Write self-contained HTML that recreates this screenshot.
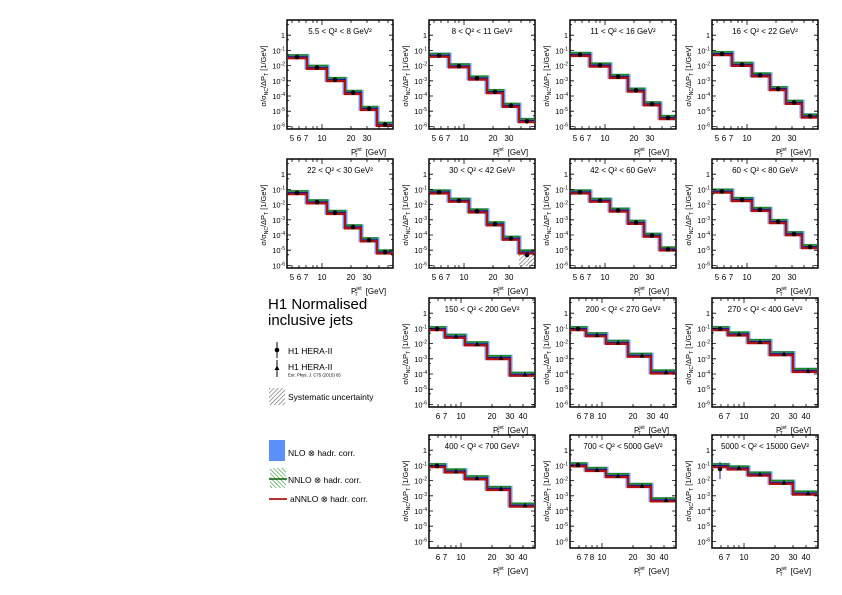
<!DOCTYPE html>
<html><head><meta charset="utf-8"><style>
html,body{margin:0;padding:0;background:#fff}
svg{font-family:"Liberation Sans",sans-serif;display:block}
.yl{font-size:7.5px;text-anchor:end}
.xl{font-size:8px;text-anchor:middle}
.tt{font-size:8px;text-anchor:middle}
.sp{font-size:5px}
.b{fill:none;stroke:#6f9cf5;stroke-width:5}
.g{fill:none;stroke:#1e8a1e;stroke-width:1.6}
.n{fill:none;stroke:#1a1a8a;stroke-width:2}
.r{fill:none;stroke:#b40f0f;stroke-width:2.2}
.fr{fill:none;stroke:#000;stroke-width:1.5}
.tk{fill:none;stroke:#000;stroke-width:0.8}
</style></head><body>
<svg width="842" height="595" viewBox="0 0 842 595" xmlns="http://www.w3.org/2000/svg">
<defs>
<pattern id="hat" width="3" height="3" patternUnits="userSpaceOnUse" patternTransform="rotate(45)"><rect width="3" height="3" fill="#fff"/><line x1="0" y1="0" x2="0" y2="3" stroke="#666" stroke-width="1.2"/></pattern>
<pattern id="ghat" width="3" height="3" patternUnits="userSpaceOnUse" patternTransform="rotate(-45)"><rect width="3" height="3" fill="#fff"/><line x1="0" y1="0" x2="0" y2="3" stroke="#2a9a2a" stroke-width="1.2"/></pattern>
<g id="ya">
<path class="tk" d="M0 15.2h4M0 30.4h4M0 45.6h4M0 60.8h4M0 76h4M0 91.2h4M0 106.4h4M106 15.2h-4M106 30.4h-4M106 45.6h-4M106 60.8h-4M106 76h-4M106 91.2h-4M106 106.4h-4M0 4.6h2M0 19.8h2M0 35h2M0 50.2h2M0 65.4h2M0 80.6h2M0 95.8h2M106 4.6h-2M106 19.8h-2M106 35h-2M106 50.2h-2M106 65.4h-2M106 80.6h-2M106 95.8h-2"/>
</g>
<g id="xa1"><path class="tk" d="M5 109v-3M12 109v-3M19 109v-3M26 109v-3M30 109v-3M35 109v-5M64 109v-3M80 109v-3M92 109v-3M101 109v-3M5 0v3M12 0v3M19 0v3M26 0v3M30 0v3M35 0v5M64 0v3M80 0v3M92 0v3M101 0v3"/><rect class="fr" width="106" height="109"/></g>
<g id="xa3"><path class="tk" d="M9 109v-3M16 109v-3M22 109v-3M27 109v-3M32 109v-5M63 109v-3M81 109v-3M94 109v-3M104 109v-3M9 0v3M16 0v3M22 0v3M27 0v3M32 0v5M63 0v3M81 0v3M94 0v3M104 0v3"/><rect class="fr" width="106" height="109"/></g>
<g id="xa4"><path class="tk" d="M9 113v-3M16 113v-3M22 113v-3M27 113v-3M32 113v-5M63 113v-3M81 113v-3M94 113v-3M104 113v-3M9 0v3M16 0v3M22 0v3M27 0v3M32 0v5M63 0v3M81 0v3M94 0v3M104 0v3"/><rect class="fr" width="106" height="113"/></g>
<path id="s1" d="M1 36.5H20V47.1H40V59.3H58V72.2H74V88.2H90V104.1H105"/>
<path id="s2" d="M1 35H20V45.6H40V57.8H58V71.4H74V85.1H90V100.3H105"/>
<path id="s3" d="M1 34.2H20V44.8H40V56.2H58V69.9H74V83.6H90V97.3H105"/>
<path id="s4" d="M1 33.4H20V44.1H40V54.7H58V68.4H74V82.1H90V95.8H105"/>
<path id="s5" d="M1 33.4H20V42.6H40V53.2H58V67.6H74V80.6H90V92.7H105"/>
<path id="s6" d="M1 32.7H20V41H40V51.7H58V64.6H74V79H90V92.7H105"/>
<path id="s7" d="M1 32.7H20V41H40V50.9H58V63.1H74V76H90V89.7H105"/>
<path id="s8" d="M1 31.9H20V40.3H40V50.2H58V62.3H74V74.5H90V87.4H105"/>
<path id="s9" d="M1 30.4H16V38H36V45.6H58V59.3H81V76H105"/>
<path id="s10" d="M1 30.4H16V36.5H36V44.1H58V57H81V73.7H105"/>
<path id="s11" d="M1 30.4H16V35.7H36V43.3H58V55.5H81V72.2H105"/>
<path id="s12" d="M1 30.4H16V35.7H36V42.6H58V53.2H81V69.9H105"/>
<path id="s13" d="M1 29.6H16V34.2H36V40.3H58V50.2H81V64.6H105"/>
<path id="s14" d="M1 30.4H16V32.7H36V38.8H58V47.1H81V57.8H105"/>
<g id="yt"><text transform="translate(-21,56) rotate(-90)" font-size="7.5" text-anchor="middle">σ/σ<tspan class="sp" dy="2">NC</tspan><tspan dy="-2">/ΔP</tspan><tspan class="sp" dy="2">T</tspan><tspan dy="-2"> [1/GeV]</tspan></text></g>
</defs>

<text x="268" y="309" font-size="15">H1 Normalised</text>
<text x="268" y="325" font-size="15">inclusive jets</text>
<line x1="277" y1="342" x2="277" y2="358" stroke="#000" stroke-width="1"/><circle cx="277" cy="350" r="2.3"/>
<text x="288" y="354" font-size="8.5">H1 HERA-II</text>
<line x1="277" y1="360" x2="277" y2="377" stroke="#000" stroke-width="1"/><path d="M274.5 370L279.5 370L277 365.5Z"/>
<text x="288" y="370" font-size="8.5">H1 HERA-II</text>
<text x="288" y="376.5" font-size="4.3">Eur. Phys. J. C75 (2015) 65</text>
<rect x="269" y="388" width="16" height="17" fill="url(#hat)"/>
<text x="288" y="400" font-size="8.5">Systematic uncertainty</text>
<rect x="269" y="440" width="16" height="21" fill="#5b8ff9"/>
<text x="288" y="456" font-size="8.5">NLO ⊗ hadr. corr.</text>
<rect x="270" y="468" width="16" height="20" fill="url(#ghat)"/><line x1="269" y1="479" x2="287" y2="479" stroke="#0c5a0c" stroke-width="1.6"/>
<text x="288" y="483" font-size="8.5">NNLO ⊗ hadr. corr.</text>
<line x1="269" y1="499" x2="287" y2="499" stroke="#b40f0f" stroke-width="1.8"/>
<text x="290" y="502" font-size="8.5">aNNLO ⊗ hadr. corr.</text>

<g transform="translate(287,20)">
<use href="#s1" class="b"/><use href="#s1" class="g" y="-1.5"/><use href="#s1" class="n" y="0.6"/><use href="#s1" class="r" y="1.8"/>
<g fill="#000"><circle cx="10" cy="37" r="2.3"/><circle cx="30" cy="47.6" r="2.3"/><circle cx="48" cy="59.8" r="2.3"/><circle cx="66" cy="72.7" r="2.3"/><circle cx="82" cy="88.7" r="2.3"/><circle cx="98" cy="104.6" r="2.3"/></g>
<use href="#xa1"/><use href="#ya"/><use href="#yt"/>
<text class="tt" x="53" y="14">5.5 &lt; Q² &lt; 8 GeV²</text>
<text class="yl" x="-2" y="18.2">1</text><text class="yl" x="-2" y="33.4">10<tspan class="sp" dy="-3">-1</tspan></text><text class="yl" x="-2" y="48.6">10<tspan class="sp" dy="-3">-2</tspan></text><text class="yl" x="-2" y="63.8">10<tspan class="sp" dy="-3">-3</tspan></text><text class="yl" x="-2" y="79">10<tspan class="sp" dy="-3">-4</tspan></text><text class="yl" x="-2" y="94.2">10<tspan class="sp" dy="-3">-5</tspan></text><text class="yl" x="-2" y="109.4">10<tspan class="sp" dy="-3">-6</tspan></text>
<text class="xl" x="5" y="121">5</text><text class="xl" x="12" y="121">6</text><text class="xl" x="19" y="121">7</text><text class="xl" x="35" y="121">10</text><text class="xl" x="64" y="121">20</text><text class="xl" x="80" y="121">30</text>
<text x="64" y="135" font-size="8">P<tspan class="sp" dy="-4">jet</tspan><tspan class="sp" dx="-7" dy="6">T</tspan><tspan dx="8" dy="-2">[GeV]</tspan></text>
</g>
<g transform="translate(429,20)">
<use href="#s2" class="b"/><use href="#s2" class="g" y="-1.5"/><use href="#s2" class="n" y="0.6"/><use href="#s2" class="r" y="1.8"/>
<g fill="#000"><circle cx="10" cy="35.5" r="2.3"/><circle cx="30" cy="46.1" r="2.3"/><circle cx="48" cy="58.3" r="2.3"/><circle cx="66" cy="71.9" r="2.3"/><circle cx="82" cy="85.6" r="2.3"/><circle cx="98" cy="101.3" r="2.3"/></g>
<use href="#xa1"/><use href="#ya"/><use href="#yt"/>
<text class="tt" x="53" y="14">8 &lt; Q² &lt; 11 GeV²</text>
<text class="yl" x="-2" y="18.2">1</text><text class="yl" x="-2" y="33.4">10<tspan class="sp" dy="-3">-1</tspan></text><text class="yl" x="-2" y="48.6">10<tspan class="sp" dy="-3">-2</tspan></text><text class="yl" x="-2" y="63.8">10<tspan class="sp" dy="-3">-3</tspan></text><text class="yl" x="-2" y="79">10<tspan class="sp" dy="-3">-4</tspan></text><text class="yl" x="-2" y="94.2">10<tspan class="sp" dy="-3">-5</tspan></text><text class="yl" x="-2" y="109.4">10<tspan class="sp" dy="-3">-6</tspan></text>
<text class="xl" x="5" y="121">5</text><text class="xl" x="12" y="121">6</text><text class="xl" x="19" y="121">7</text><text class="xl" x="35" y="121">10</text><text class="xl" x="64" y="121">20</text><text class="xl" x="80" y="121">30</text>
<text x="64" y="135" font-size="8">P<tspan class="sp" dy="-4">jet</tspan><tspan class="sp" dx="-7" dy="6">T</tspan><tspan dx="8" dy="-2">[GeV]</tspan></text>
</g>
<g transform="translate(570,20)">
<use href="#s3" class="b"/><use href="#s3" class="g" y="-1.5"/><use href="#s3" class="n" y="0.6"/><use href="#s3" class="r" y="1.8"/>
<g fill="#000"><circle cx="10" cy="34.7" r="2.3"/><circle cx="30" cy="45.3" r="2.3"/><circle cx="48" cy="56.7" r="2.3"/><circle cx="66" cy="70.4" r="2.3"/><circle cx="82" cy="84.1" r="2.3"/><circle cx="98" cy="97.8" r="2.3"/></g>
<use href="#xa1"/><use href="#ya"/><use href="#yt"/>
<text class="tt" x="53" y="14">11 &lt; Q² &lt; 16 GeV²</text>
<text class="yl" x="-2" y="18.2">1</text><text class="yl" x="-2" y="33.4">10<tspan class="sp" dy="-3">-1</tspan></text><text class="yl" x="-2" y="48.6">10<tspan class="sp" dy="-3">-2</tspan></text><text class="yl" x="-2" y="63.8">10<tspan class="sp" dy="-3">-3</tspan></text><text class="yl" x="-2" y="79">10<tspan class="sp" dy="-3">-4</tspan></text><text class="yl" x="-2" y="94.2">10<tspan class="sp" dy="-3">-5</tspan></text><text class="yl" x="-2" y="109.4">10<tspan class="sp" dy="-3">-6</tspan></text>
<text class="xl" x="5" y="121">5</text><text class="xl" x="12" y="121">6</text><text class="xl" x="19" y="121">7</text><text class="xl" x="35" y="121">10</text><text class="xl" x="64" y="121">20</text><text class="xl" x="80" y="121">30</text>
<text x="64" y="135" font-size="8">P<tspan class="sp" dy="-4">jet</tspan><tspan class="sp" dx="-7" dy="6">T</tspan><tspan dx="8" dy="-2">[GeV]</tspan></text>
</g>
<g transform="translate(712,20)">
<use href="#s4" class="b"/><use href="#s4" class="g" y="-1.5"/><use href="#s4" class="n" y="0.6"/><use href="#s4" class="r" y="1.8"/>
<g fill="#000"><circle cx="10" cy="33.9" r="2.3"/><circle cx="30" cy="44.6" r="2.3"/><circle cx="48" cy="55.2" r="2.3"/><circle cx="66" cy="68.9" r="2.3"/><circle cx="82" cy="82.6" r="2.3"/><circle cx="98" cy="96.3" r="2.3"/></g>
<use href="#xa1"/><use href="#ya"/><use href="#yt"/>
<text class="tt" x="53" y="14">16 &lt; Q² &lt; 22 GeV²</text>
<text class="yl" x="-2" y="18.2">1</text><text class="yl" x="-2" y="33.4">10<tspan class="sp" dy="-3">-1</tspan></text><text class="yl" x="-2" y="48.6">10<tspan class="sp" dy="-3">-2</tspan></text><text class="yl" x="-2" y="63.8">10<tspan class="sp" dy="-3">-3</tspan></text><text class="yl" x="-2" y="79">10<tspan class="sp" dy="-3">-4</tspan></text><text class="yl" x="-2" y="94.2">10<tspan class="sp" dy="-3">-5</tspan></text><text class="yl" x="-2" y="109.4">10<tspan class="sp" dy="-3">-6</tspan></text>
<text class="xl" x="5" y="121">5</text><text class="xl" x="12" y="121">6</text><text class="xl" x="19" y="121">7</text><text class="xl" x="35" y="121">10</text><text class="xl" x="64" y="121">20</text><text class="xl" x="80" y="121">30</text>
<text x="64" y="135" font-size="8">P<tspan class="sp" dy="-4">jet</tspan><tspan class="sp" dx="-7" dy="6">T</tspan><tspan dx="8" dy="-2">[GeV]</tspan></text>
</g>
<g transform="translate(287,159)">
<use href="#s5" class="b"/><use href="#s5" class="g" y="-1.5"/><use href="#s5" class="n" y="0.6"/><use href="#s5" class="r" y="1.8"/>
<g fill="#000"><circle cx="10" cy="33.9" r="2.3"/><circle cx="30" cy="43.1" r="2.3"/><circle cx="48" cy="53.7" r="2.3"/><circle cx="66" cy="68.1" r="2.3"/><circle cx="82" cy="81.1" r="2.3"/><circle cx="98" cy="93.2" r="2.3"/></g>
<use href="#xa1"/><use href="#ya"/><use href="#yt"/>
<text class="tt" x="53" y="14">22 &lt; Q² &lt; 30 GeV²</text>
<text class="yl" x="-2" y="18.2">1</text><text class="yl" x="-2" y="33.4">10<tspan class="sp" dy="-3">-1</tspan></text><text class="yl" x="-2" y="48.6">10<tspan class="sp" dy="-3">-2</tspan></text><text class="yl" x="-2" y="63.8">10<tspan class="sp" dy="-3">-3</tspan></text><text class="yl" x="-2" y="79">10<tspan class="sp" dy="-3">-4</tspan></text><text class="yl" x="-2" y="94.2">10<tspan class="sp" dy="-3">-5</tspan></text><text class="yl" x="-2" y="109.4">10<tspan class="sp" dy="-3">-6</tspan></text>
<text class="xl" x="5" y="121">5</text><text class="xl" x="12" y="121">6</text><text class="xl" x="19" y="121">7</text><text class="xl" x="35" y="121">10</text><text class="xl" x="64" y="121">20</text><text class="xl" x="80" y="121">30</text>
<text x="64" y="135" font-size="8">P<tspan class="sp" dy="-4">jet</tspan><tspan class="sp" dx="-7" dy="6">T</tspan><tspan dx="8" dy="-2">[GeV]</tspan></text>
</g>
<g transform="translate(429,159)">
<rect x="90" y="93" width="15" height="14" fill="url(#hat)"/>
<use href="#s6" class="b"/><use href="#s6" class="g" y="-1.5"/><use href="#s6" class="n" y="0.6"/><use href="#s6" class="r" y="1.8"/>
<g fill="#000"><circle cx="10" cy="33.2" r="2.3"/><circle cx="30" cy="41.5" r="2.3"/><circle cx="48" cy="52.2" r="2.3"/><circle cx="66" cy="65.1" r="2.3"/><circle cx="82" cy="79.5" r="2.3"/><circle cx="98" cy="96" r="2.3"/></g>
<use href="#xa1"/><use href="#ya"/><use href="#yt"/>
<text class="tt" x="53" y="14">30 &lt; Q² &lt; 42 GeV²</text>
<text class="yl" x="-2" y="18.2">1</text><text class="yl" x="-2" y="33.4">10<tspan class="sp" dy="-3">-1</tspan></text><text class="yl" x="-2" y="48.6">10<tspan class="sp" dy="-3">-2</tspan></text><text class="yl" x="-2" y="63.8">10<tspan class="sp" dy="-3">-3</tspan></text><text class="yl" x="-2" y="79">10<tspan class="sp" dy="-3">-4</tspan></text><text class="yl" x="-2" y="94.2">10<tspan class="sp" dy="-3">-5</tspan></text><text class="yl" x="-2" y="109.4">10<tspan class="sp" dy="-3">-6</tspan></text>
<text class="xl" x="5" y="121">5</text><text class="xl" x="12" y="121">6</text><text class="xl" x="19" y="121">7</text><text class="xl" x="35" y="121">10</text><text class="xl" x="64" y="121">20</text><text class="xl" x="80" y="121">30</text>
<text x="64" y="135" font-size="8">P<tspan class="sp" dy="-4">jet</tspan><tspan class="sp" dx="-7" dy="6">T</tspan><tspan dx="8" dy="-2">[GeV]</tspan></text>
</g>
<g transform="translate(570,159)">
<use href="#s7" class="b"/><use href="#s7" class="g" y="-1.5"/><use href="#s7" class="n" y="0.6"/><use href="#s7" class="r" y="1.8"/>
<g fill="#000"><circle cx="10" cy="33.2" r="2.3"/><circle cx="30" cy="41.5" r="2.3"/><circle cx="48" cy="51.4" r="2.3"/><circle cx="66" cy="63.6" r="2.3"/><circle cx="82" cy="76.5" r="2.3"/><circle cx="98" cy="90.2" r="2.3"/></g>
<use href="#xa1"/><use href="#ya"/><use href="#yt"/>
<text class="tt" x="53" y="14">42 &lt; Q² &lt; 60 GeV²</text>
<text class="yl" x="-2" y="18.2">1</text><text class="yl" x="-2" y="33.4">10<tspan class="sp" dy="-3">-1</tspan></text><text class="yl" x="-2" y="48.6">10<tspan class="sp" dy="-3">-2</tspan></text><text class="yl" x="-2" y="63.8">10<tspan class="sp" dy="-3">-3</tspan></text><text class="yl" x="-2" y="79">10<tspan class="sp" dy="-3">-4</tspan></text><text class="yl" x="-2" y="94.2">10<tspan class="sp" dy="-3">-5</tspan></text><text class="yl" x="-2" y="109.4">10<tspan class="sp" dy="-3">-6</tspan></text>
<text class="xl" x="5" y="121">5</text><text class="xl" x="12" y="121">6</text><text class="xl" x="19" y="121">7</text><text class="xl" x="35" y="121">10</text><text class="xl" x="64" y="121">20</text><text class="xl" x="80" y="121">30</text>
<text x="64" y="135" font-size="8">P<tspan class="sp" dy="-4">jet</tspan><tspan class="sp" dx="-7" dy="6">T</tspan><tspan dx="8" dy="-2">[GeV]</tspan></text>
</g>
<g transform="translate(712,159)">
<use href="#s8" class="b"/><use href="#s8" class="g" y="-1.5"/><use href="#s8" class="n" y="0.6"/><use href="#s8" class="r" y="1.8"/>
<g fill="#000"><circle cx="10" cy="32.4" r="2.3"/><circle cx="30" cy="40.8" r="2.3"/><circle cx="48" cy="50.7" r="2.3"/><circle cx="66" cy="62.8" r="2.3"/><circle cx="82" cy="75" r="2.3"/><circle cx="98" cy="88" r="2.3"/></g>
<use href="#xa1"/><use href="#ya"/><use href="#yt"/>
<text class="tt" x="53" y="14">60 &lt; Q² &lt; 80 GeV²</text>
<text class="yl" x="-2" y="18.2">1</text><text class="yl" x="-2" y="33.4">10<tspan class="sp" dy="-3">-1</tspan></text><text class="yl" x="-2" y="48.6">10<tspan class="sp" dy="-3">-2</tspan></text><text class="yl" x="-2" y="63.8">10<tspan class="sp" dy="-3">-3</tspan></text><text class="yl" x="-2" y="79">10<tspan class="sp" dy="-3">-4</tspan></text><text class="yl" x="-2" y="94.2">10<tspan class="sp" dy="-3">-5</tspan></text><text class="yl" x="-2" y="109.4">10<tspan class="sp" dy="-3">-6</tspan></text>
<text class="xl" x="5" y="121">5</text><text class="xl" x="12" y="121">6</text><text class="xl" x="19" y="121">7</text><text class="xl" x="35" y="121">10</text><text class="xl" x="64" y="121">20</text><text class="xl" x="80" y="121">30</text>
<text x="64" y="135" font-size="8">P<tspan class="sp" dy="-4">jet</tspan><tspan class="sp" dx="-7" dy="6">T</tspan><tspan dx="8" dy="-2">[GeV]</tspan></text>
</g>

<g transform="translate(429,298)">
<use href="#s9" class="b"/><use href="#s9" class="g" y="-1.5"/><use href="#s9" class="n" y="0.6"/><use href="#s9" class="r" y="1.8"/>
<g fill="#000"><circle cx="8" cy="30.9" r="2.3"/><path d="M24.5 40.5h5l-2.5-4.5z"/><path d="M45.5 48.1h5l-2.5-4.5z"/><path d="M69.5 61.8h5l-2.5-4.5z"/><path d="M93.5 78.5h5l-2.5-4.5z"/></g>
<use href="#xa3"/><use href="#ya"/><use href="#yt"/>
<text class="tt" x="53" y="14">150 &lt; Q² &lt; 200 GeV²</text>
<text class="yl" x="-2" y="18.2">1</text><text class="yl" x="-2" y="33.4">10<tspan class="sp" dy="-3">-1</tspan></text><text class="yl" x="-2" y="48.6">10<tspan class="sp" dy="-3">-2</tspan></text><text class="yl" x="-2" y="63.8">10<tspan class="sp" dy="-3">-3</tspan></text><text class="yl" x="-2" y="79">10<tspan class="sp" dy="-3">-4</tspan></text><text class="yl" x="-2" y="94.2">10<tspan class="sp" dy="-3">-5</tspan></text><text class="yl" x="-2" y="109.4">10<tspan class="sp" dy="-3">-6</tspan></text>
<text class="xl" x="9" y="121">6</text><text class="xl" x="16" y="121">7</text><text class="xl" x="32" y="121">10</text><text class="xl" x="63" y="121">20</text><text class="xl" x="81" y="121">30</text><text class="xl" x="94" y="121">40</text>
<text x="64" y="135" font-size="8">P<tspan class="sp" dy="-4">jet</tspan><tspan class="sp" dx="-7" dy="6">T</tspan><tspan dx="8" dy="-2">[GeV]</tspan></text>
</g>
<g transform="translate(570,298)">
<use href="#s10" class="b"/><use href="#s10" class="g" y="-1.5"/><use href="#s10" class="n" y="0.6"/><use href="#s10" class="r" y="1.8"/>
<g fill="#000"><circle cx="8" cy="30.9" r="2.3"/><path d="M24.5 39h5l-2.5-4.5z"/><path d="M45.5 46.6h5l-2.5-4.5z"/><path d="M69.5 59.5h5l-2.5-4.5z"/><path d="M93.5 76.2h5l-2.5-4.5z"/></g>
<use href="#xa3"/><use href="#ya"/><use href="#yt"/>
<text class="tt" x="53" y="14">200 &lt; Q² &lt; 270 GeV²</text>
<text class="yl" x="-2" y="18.2">1</text><text class="yl" x="-2" y="33.4">10<tspan class="sp" dy="-3">-1</tspan></text><text class="yl" x="-2" y="48.6">10<tspan class="sp" dy="-3">-2</tspan></text><text class="yl" x="-2" y="63.8">10<tspan class="sp" dy="-3">-3</tspan></text><text class="yl" x="-2" y="79">10<tspan class="sp" dy="-3">-4</tspan></text><text class="yl" x="-2" y="94.2">10<tspan class="sp" dy="-3">-5</tspan></text><text class="yl" x="-2" y="109.4">10<tspan class="sp" dy="-3">-6</tspan></text>
<text class="xl" x="9" y="121">6</text><text class="xl" x="16" y="121">7</text><text class="xl" x="22" y="121">8</text><text class="xl" x="32" y="121">10</text><text class="xl" x="63" y="121">20</text><text class="xl" x="81" y="121">30</text><text class="xl" x="94" y="121">40</text>
<text x="64" y="135" font-size="8">P<tspan class="sp" dy="-4">jet</tspan><tspan class="sp" dx="-7" dy="6">T</tspan><tspan dx="8" dy="-2">[GeV]</tspan></text>
</g>
<g transform="translate(712,298)">
<use href="#s11" class="b"/><use href="#s11" class="g" y="-1.5"/><use href="#s11" class="n" y="0.6"/><use href="#s11" class="r" y="1.8"/>
<g fill="#000"><circle cx="8" cy="30.9" r="2.3"/><path d="M24.5 38.2h5l-2.5-4.5z"/><path d="M45.5 45.8h5l-2.5-4.5z"/><path d="M69.5 58h5l-2.5-4.5z"/><path d="M93.5 74.7h5l-2.5-4.5z"/></g>
<use href="#xa3"/><use href="#ya"/><use href="#yt"/>
<text class="tt" x="53" y="14">270 &lt; Q² &lt; 400 GeV²</text>
<text class="yl" x="-2" y="18.2">1</text><text class="yl" x="-2" y="33.4">10<tspan class="sp" dy="-3">-1</tspan></text><text class="yl" x="-2" y="48.6">10<tspan class="sp" dy="-3">-2</tspan></text><text class="yl" x="-2" y="63.8">10<tspan class="sp" dy="-3">-3</tspan></text><text class="yl" x="-2" y="79">10<tspan class="sp" dy="-3">-4</tspan></text><text class="yl" x="-2" y="94.2">10<tspan class="sp" dy="-3">-5</tspan></text><text class="yl" x="-2" y="109.4">10<tspan class="sp" dy="-3">-6</tspan></text>
<text class="xl" x="9" y="121">6</text><text class="xl" x="16" y="121">7</text><text class="xl" x="32" y="121">10</text><text class="xl" x="63" y="121">20</text><text class="xl" x="81" y="121">30</text><text class="xl" x="94" y="121">40</text>
<text x="64" y="135" font-size="8">P<tspan class="sp" dy="-4">jet</tspan><tspan class="sp" dx="-7" dy="6">T</tspan><tspan dx="8" dy="-2">[GeV]</tspan></text>
</g>

<g transform="translate(429,435)">
<use href="#s12" class="b"/><use href="#s12" class="g" y="-1.5"/><use href="#s12" class="n" y="0.6"/><use href="#s12" class="r" y="1.8"/>
<g fill="#000"><circle cx="8" cy="30.9" r="2.3"/><path d="M24.5 38.2h5l-2.5-4.5z"/><path d="M45.5 45.1h5l-2.5-4.5z"/><path d="M69.5 55.7h5l-2.5-4.5z"/><path d="M93.5 72.4h5l-2.5-4.5z"/></g>
<use href="#xa4"/><use href="#ya"/><use href="#yt"/>
<text class="tt" x="53" y="14">400 &lt; Q² &lt; 700 GeV²</text>
<text class="yl" x="-2" y="18.2">1</text><text class="yl" x="-2" y="33.4">10<tspan class="sp" dy="-3">-1</tspan></text><text class="yl" x="-2" y="48.6">10<tspan class="sp" dy="-3">-2</tspan></text><text class="yl" x="-2" y="63.8">10<tspan class="sp" dy="-3">-3</tspan></text><text class="yl" x="-2" y="79">10<tspan class="sp" dy="-3">-4</tspan></text><text class="yl" x="-2" y="94.2">10<tspan class="sp" dy="-3">-5</tspan></text><text class="yl" x="-2" y="109.4">10<tspan class="sp" dy="-3">-6</tspan></text>
<text class="xl" x="9" y="125">6</text><text class="xl" x="16" y="125">7</text><text class="xl" x="32" y="125">10</text><text class="xl" x="63" y="125">20</text><text class="xl" x="81" y="125">30</text><text class="xl" x="94" y="125">40</text>
<text x="64" y="139" font-size="8">P<tspan class="sp" dy="-4">jet</tspan><tspan class="sp" dx="-7" dy="6">T</tspan><tspan dx="8" dy="-2">[GeV]</tspan></text>
</g>
<g transform="translate(570,435)">
<use href="#s13" class="b"/><use href="#s13" class="g" y="-1.5"/><use href="#s13" class="n" y="0.6"/><use href="#s13" class="r" y="1.8"/>
<g fill="#000"><circle cx="8" cy="30.1" r="2.3"/><path d="M24.5 36.7h5l-2.5-4.5z"/><path d="M45.5 42.8h5l-2.5-4.5z"/><path d="M69.5 52.7h5l-2.5-4.5z"/><path d="M93.5 67.1h5l-2.5-4.5z"/></g>
<use href="#xa4"/><use href="#ya"/><use href="#yt"/>
<text class="tt" x="53" y="14">700 &lt; Q² &lt; 5000 GeV²</text>
<text class="yl" x="-2" y="18.2">1</text><text class="yl" x="-2" y="33.4">10<tspan class="sp" dy="-3">-1</tspan></text><text class="yl" x="-2" y="48.6">10<tspan class="sp" dy="-3">-2</tspan></text><text class="yl" x="-2" y="63.8">10<tspan class="sp" dy="-3">-3</tspan></text><text class="yl" x="-2" y="79">10<tspan class="sp" dy="-3">-4</tspan></text><text class="yl" x="-2" y="94.2">10<tspan class="sp" dy="-3">-5</tspan></text><text class="yl" x="-2" y="109.4">10<tspan class="sp" dy="-3">-6</tspan></text>
<text class="xl" x="9" y="125">6</text><text class="xl" x="16" y="125">7</text><text class="xl" x="22" y="125">8</text><text class="xl" x="32" y="125">10</text><text class="xl" x="63" y="125">20</text><text class="xl" x="81" y="125">30</text><text class="xl" x="94" y="125">40</text>
<text x="64" y="139" font-size="8">P<tspan class="sp" dy="-4">jet</tspan><tspan class="sp" dx="-7" dy="6">T</tspan><tspan dx="8" dy="-2">[GeV]</tspan></text>
</g>
<g transform="translate(712,435)">
<use href="#s14" class="b"/><use href="#s14" class="g" y="-1.5"/><use href="#s14" class="n" y="0.6"/><use href="#s14" class="r" y="1.8"/>
<line x1="8" y1="27" x2="8" y2="44" stroke="#22229a" stroke-width="1"/>
<g fill="#000"><circle cx="8" cy="34" r="2.3"/><path d="M24.5 35h5l-2.5-4.5z"/><path d="M45.5 41.3h5l-2.5-4.5z"/><path d="M69.5 49.6h5l-2.5-4.5z"/><path d="M93.5 60.3h5l-2.5-4.5z"/></g>
<use href="#xa4"/><use href="#ya"/><use href="#yt"/>
<text class="tt" x="53" y="14">5000 &lt; Q² &lt; 15000 GeV²</text>
<text class="yl" x="-2" y="18.2">1</text><text class="yl" x="-2" y="33.4">10<tspan class="sp" dy="-3">-1</tspan></text><text class="yl" x="-2" y="48.6">10<tspan class="sp" dy="-3">-2</tspan></text><text class="yl" x="-2" y="63.8">10<tspan class="sp" dy="-3">-3</tspan></text><text class="yl" x="-2" y="79">10<tspan class="sp" dy="-3">-4</tspan></text><text class="yl" x="-2" y="94.2">10<tspan class="sp" dy="-3">-5</tspan></text><text class="yl" x="-2" y="109.4">10<tspan class="sp" dy="-3">-6</tspan></text>
<text class="xl" x="9" y="125">6</text><text class="xl" x="16" y="125">7</text><text class="xl" x="32" y="125">10</text><text class="xl" x="63" y="125">20</text><text class="xl" x="81" y="125">30</text><text class="xl" x="94" y="125">40</text>
<text x="64" y="139" font-size="8">P<tspan class="sp" dy="-4">jet</tspan><tspan class="sp" dx="-7" dy="6">T</tspan><tspan dx="8" dy="-2">[GeV]</tspan></text>
</g>
</svg>
</body></html>
